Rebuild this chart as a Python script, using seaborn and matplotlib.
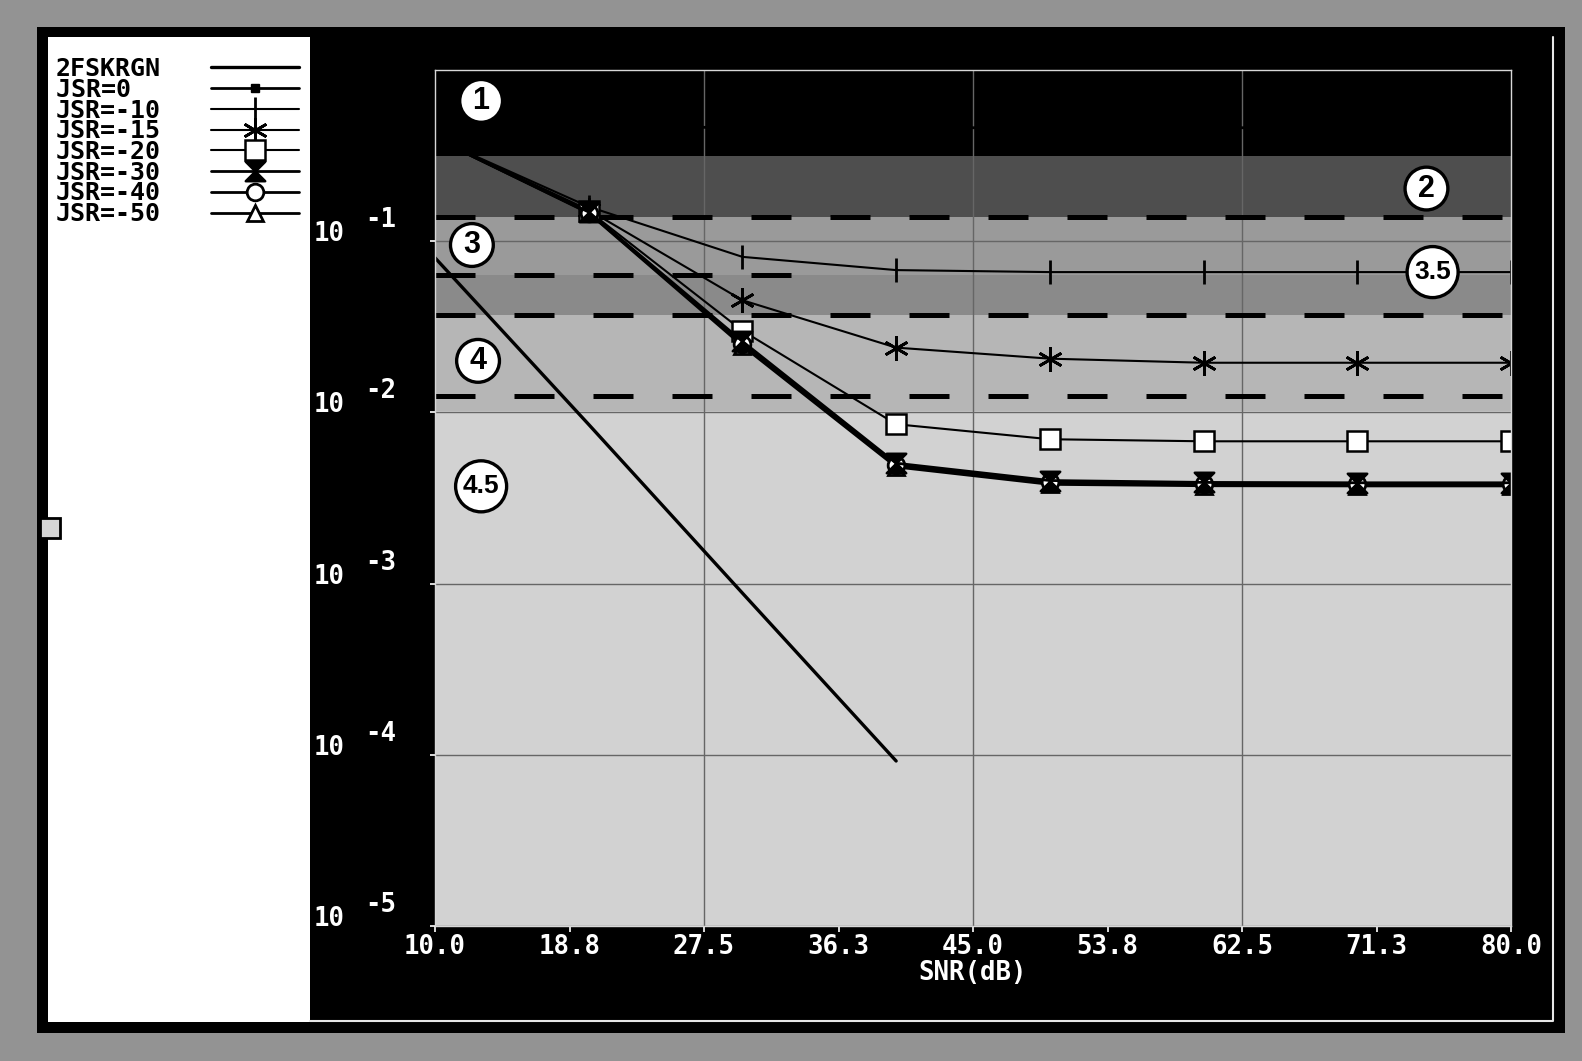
import matplotlib
matplotlib.use("Agg")
import matplotlib.pyplot as plt
import seaborn as sns
from matplotlib.path import Path
from matplotlib.lines import Line2D
from matplotlib.patches import Rectangle
from matplotlib.font_manager import FontProperties
from matplotlib.transforms import blended_transform_factory, ScaledTranslation
from matplotlib.ticker import NullLocator

# ---------------- data ----------------
snr_db = [10, 20, 30, 40, 50, 60, 70, 80]
awgn_snr_db = [10, 20, 30, 40]

ber_2fskrgn = [0.08, 0.0085, 0.00088, 0.000092]
ber_jsr_0 = [0.50, 0.47, 0.46, 0.46, 0.46, 0.46, 0.46, 0.46]
ber_jsr_m10 = [0.40, 0.159, 0.081, 0.0678, 0.066, 0.066, 0.066, 0.066]
ber_jsr_m15 = [0.40, 0.152, 0.0452, 0.0239, 0.0206, 0.0195, 0.0195, 0.0195]
ber_jsr_m20 = [0.40, 0.150, 0.0300, 0.00853, 0.00697, 0.00678, 0.00678, 0.00678]
ber_jsr_m30 = [0.40, 0.148, 0.0260, 0.00505, 0.00400, 0.00390, 0.00388, 0.00388]
ber_jsr_m40 = [0.40, 0.147, 0.0252, 0.00492, 0.00390, 0.00382, 0.00380, 0.00380]
ber_jsr_m50 = [0.40, 0.146, 0.0245, 0.00480, 0.00380, 0.00373, 0.00372, 0.00372]

series_names = ["2FSKRGN", "JSR=0", "JSR=-10", "JSR=-15", "JSR=-20",
                "JSR=-30", "JSR=-40", "JSR=-50"]

# quality regions (upper / lower BER bounds) and their shading
region_upper = [1.0, 0.313, 0.139, 0.0633, 0.0369, 0.0102]
region_lower = [0.313, 0.139, 0.0633, 0.0369, 0.0102, 1e-5]
region_colors = ["#000000", "#4e4e4e", "#9a9a9a", "#8a8a8a", "#b6b6b6", "#d2d2d2"]

# dashed threshold levels
threshold_ber = [0.139, 0.0633, 0.0369, 0.01247]
threshold_snr_end = [80, 33.5, 80, 80]

# circled region tags
tag_text = ["1", "2", "3", "3.5", "4", "4.5"]
tag_snr = [13.0, 74.5, 12.4, 74.9, 12.8, 13.0]
tag_ber = [0.66, 0.203, 0.095, 0.066, 0.020, 0.0037]

x_ticks = [10.0, 18.75, 27.5, 36.25, 45.0, 53.75, 62.5, 71.25, 80.0]
x_tick_labels = ["10.0", "18.8", "27.5", "36.3", "45.0", "53.8", "62.5", "71.3", "80.0"]
grid_snr = [27.5, 45.0, 62.5]
y_exponents = [-1, -2, -3, -4, -5]

# ---------------- styling ----------------
sns.set_style("ticks")
plt.rcParams["font.family"] = ["DejaVu Sans Mono", "DejaVu Sans"]

W, H = 1582, 1061
fig = plt.figure(figsize=(W / 100, H / 100), dpi=100, facecolor="#939393")


def fx(px):
    return px / W


def fy(py):
    return 1 - py / H


# outer black frame, white key panel and black plot panel
fig.add_artist(Rectangle((fx(37), fy(1033)), fx(1565) - fx(37), fy(27) - fy(1033),
                         transform=fig.transFigure, fc="black", ec="none", zorder=0))
fig.add_artist(Rectangle((fx(48), fy(1022)), fx(310) - fx(48), fy(37) - fy(1022),
                         transform=fig.transFigure, fc="white", ec="none", zorder=0))
fig.add_artist(Line2D([fx(310), fx(1553), fx(1553)], [fy(1021), fy(1021), fy(37)],
                      transform=fig.transFigure, color="#e6e6e6", lw=1.5, zorder=1))
fig.add_artist(Rectangle((fx(40), fy(538)), fx(60) - fx(40), fy(518) - fy(538),
                         transform=fig.transFigure, fc="#d6d6d6", ec="black", lw=2, zorder=2))

ax = fig.add_axes([fx(435), fy(926), fx(1511) - fx(435), fy(70) - fy(926)])
ax.set_yscale("log")
ax.set_xlim(10, 80)
ax.set_ylim(1e-5, 1.0)
ax.set_facecolor(region_colors[-1])
ax.set_axisbelow(True)

for lo, hi, c in zip(region_lower, region_upper, region_colors):
    ax.axhspan(lo, hi, color=c, lw=0, zorder=0.1)

# grid
ax.yaxis.set_minor_locator(NullLocator())
ax.set_yticks([10.0 ** e for e in y_exponents])
ax.set_yticklabels([""] * len(y_exponents))
ax.grid(axis="y", which="major", color="#666666", lw=1.0, zorder=0.5)
for g in grid_snr:
    ax.axvline(g, color="#666666", lw=1.0, zorder=0.5)

# dashed thresholds
ax.hlines(threshold_ber, [10] * len(threshold_ber), threshold_snr_end,
          colors="black", linewidth=3.6, linestyles=[(0, (8, 7.8))], zorder=1.5)

# hourglass marker
hourglass = Path([(-1, 1), (1, 1), (-1, -1), (1, -1), (-1, 1)],
                 [Path.MOVETO, Path.LINETO, Path.LINETO, Path.LINETO, Path.CLOSEPOLY])

skip_first = slice(1, None)
styles = {
    "2FSKRGN": dict(marker=None, lw=2.4, z=3.0),
    "JSR=0": dict(marker="s", markersize=6, mfc="black", mew=1.0, lw=2.0, z=3.0),
    "JSR=-10": dict(marker="|", markersize=17, mfc="black", mew=2.0, lw=1.5, z=3.0,
                    markevery=skip_first),
    "JSR=-15": dict(marker=(6, 2, 0), markersize=18, mfc="black", mew=2.0, lw=1.5, z=3.1,
                    markevery=skip_first),
    "JSR=-20": dict(marker="s", markersize=15, mfc="white", mew=1.8, lw=1.5, z=3.2,
                    markevery=skip_first),
    "JSR=-30": dict(marker=hourglass, markersize=14, mfc="black", mew=1.8, lw=2.0, z=3.5,
                    markevery=skip_first),
    "JSR=-40": dict(marker="o", markersize=12, mfc="white", mew=2.0, lw=2.0, z=3.4,
                    markevery=skip_first),
    "JSR=-50": dict(marker="^", markersize=12, mfc="white", mew=2.0, lw=2.0, z=3.3,
                    markevery=skip_first),
}

series_x = [awgn_snr_db] + [snr_db] * 7
series_y = [ber_2fskrgn, ber_jsr_0, ber_jsr_m10, ber_jsr_m15, ber_jsr_m20,
            ber_jsr_m30, ber_jsr_m40, ber_jsr_m50]

for name, xs, ys in zip(series_names, series_x, series_y):
    st = dict(styles[name])
    lw = st.pop("lw")
    z = st.pop("z")
    sns.lineplot(x=xs, y=ys, ax=ax, color="black", linewidth=lw, mec="black",
                 label=name, legend=False, zorder=z, clip_on=True, **st)

# circled region tags
tag_sizes = [950 if len(t) == 1 else 1350 for t in tag_text]
ax.scatter(tag_snr, tag_ber, s=tag_sizes, facecolor="white", edgecolor="black",
           linewidth=2.4, zorder=6)
for t, x, y in zip(tag_text, tag_snr, tag_ber):
    ax.text(x, y, t, ha="center", va="center", zorder=7, color="black",
            family=["Liberation Sans", "DejaVu Sans"], weight="bold",
            fontsize=22 if len(t) == 1 else 19)

# axes frame and ticks
for sp in ax.spines.values():
    sp.set_color("#d8d8d8")
    sp.set_linewidth(1.0)
    sp.set_zorder(8)

tick_font = FontProperties(family="DejaVu Sans Mono", weight="bold", size=18.5)
ax.set_xticks(x_ticks)
ax.set_xticklabels(x_tick_labels, fontproperties=tick_font, color="white")
ax.tick_params(axis="x", colors="white", direction="out", length=4.5, width=1.2, pad=1.5)
ax.tick_params(axis="y", colors="white", direction="out", length=3.5, width=1.2)
ax.set_xlabel("SNR(dB)", fontproperties=tick_font, color="white", labelpad=0)
ax.set_ylabel("")

ylab_tf = blended_transform_factory(ax.transAxes, ax.transData)
for e in y_exponents:
    v = 10.0 ** e
    ax.text(-0.1125, v, "10", transform=ylab_tf + ScaledTranslation(0, 0.07, fig.dpi_scale_trans),
            ha="left", va="center", color="white", fontproperties=tick_font, clip_on=False)
    ax.text(-0.065, v, f"{e}", transform=ylab_tf + ScaledTranslation(0, 0.21, fig.dpi_scale_trans),
            ha="left", va="center", color="white", fontproperties=tick_font, clip_on=False)

# key
handles, labels = ax.get_legend_handles_labels()
width = max(len(s) for s in labels)
padded = [s.ljust(width) for s in labels]
leg_font = FontProperties(family="DejaVu Sans Mono", weight="bold", size=18)
fig.legend(handles, padded, loc="upper left", bbox_to_anchor=(fx(56), fy(57)),
           frameon=False, markerfirst=False, prop=leg_font, labelspacing=-0.13,
           handlelength=3.5, handletextpad=2.0, borderpad=0, borderaxespad=0,
           numpoints=1, labelcolor="black")

fig.savefig("out.png", dpi=100, facecolor=fig.get_facecolor())
